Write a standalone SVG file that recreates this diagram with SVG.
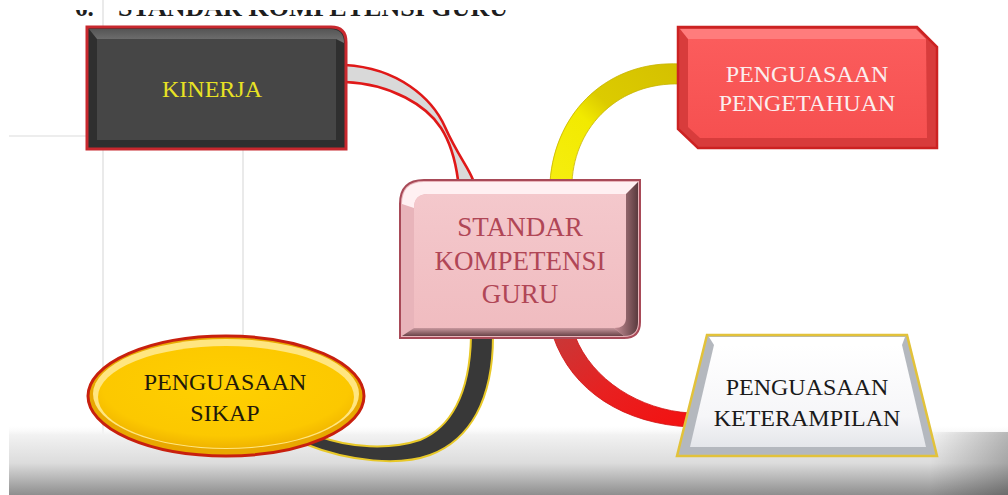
<svg xmlns="http://www.w3.org/2000/svg" width="1008" height="495" viewBox="0 0 1008 495">
  <defs>
    <style>
      .t { font-family: "Liberation Serif", "Times New Roman", serif; text-anchor: middle; }
      .grid { stroke: #dcdcdc; stroke-width: 1.2; fill: none; }
      .top { font-family: "Liberation Serif", "Times New Roman", serif; font-weight: bold; font-size: 25px; fill: #1e1e1e; }
    </style>
    <linearGradient id="bottomShade" x1="0" y1="0" x2="0" y2="1">
      <stop offset="0" stop-color="#ffffff" stop-opacity="0"/>
      <stop offset="0.15" stop-color="#f2f2f2" stop-opacity="1"/>
      <stop offset="0.55" stop-color="#dcdcdc"/>
      <stop offset="1" stop-color="#8e8e8e"/>
    </linearGradient>
    <linearGradient id="rightShade" x1="0" y1="0" x2="1" y2="0">
      <stop offset="0" stop-color="#000" stop-opacity="0"/>
      <stop offset="1" stop-color="#000" stop-opacity="0.25"/>
    </linearGradient>
    <linearGradient id="yellowRib" x1="1" y1="0" x2="0" y2="1">
      <stop offset="0" stop-color="#d4c000"/>
      <stop offset="0.45" stop-color="#dccb00"/>
      <stop offset="0.6" stop-color="#f2ea00"/>
      <stop offset="1" stop-color="#f6ee10"/>
    </linearGradient>
    <linearGradient id="redRib" x1="0" y1="0" x2="1" y2="1">
      <stop offset="0" stop-color="#c83838"/>
      <stop offset="0.5" stop-color="#e82020"/>
      <stop offset="1" stop-color="#f41010"/>
    </linearGradient>
    <linearGradient id="darkTop" x1="0" y1="0" x2="0" y2="1">
      <stop offset="0" stop-color="#555"/>
      <stop offset="1" stop-color="#757575"/>
    </linearGradient>
    <linearGradient id="pinkFace" x1="0" y1="0" x2="0" y2="1">
      <stop offset="0" stop-color="#f4c8cc"/>
      <stop offset="1" stop-color="#f0bcc0"/>
    </linearGradient>
    <linearGradient id="pinkRight" x1="0" y1="0" x2="1" y2="0">
      <stop offset="0" stop-color="#c89098"/>
      <stop offset="1" stop-color="#5a3a3e"/>
    </linearGradient>
    <linearGradient id="pinkBottom" x1="0" y1="0" x2="0" y2="1">
      <stop offset="0" stop-color="#c8989e"/>
      <stop offset="1" stop-color="#6a4448"/>
    </linearGradient>
    <radialGradient id="yellowFace" cx="0.5" cy="0.4" r="0.6">
      <stop offset="0" stop-color="#ffd000"/>
      <stop offset="0.8" stop-color="#fcc800"/>
      <stop offset="1" stop-color="#f0b400"/>
    </radialGradient>
    <linearGradient id="whiteFace" x1="0" y1="0" x2="0" y2="1">
      <stop offset="0" stop-color="#ffffff"/>
      <stop offset="0.7" stop-color="#f6f6f8"/>
      <stop offset="1" stop-color="#e4e6ea"/>
    </linearGradient>
    <linearGradient id="redFace" x1="0" y1="0" x2="0" y2="1">
      <stop offset="0" stop-color="#fb5c5c"/>
      <stop offset="1" stop-color="#f65050"/>
    </linearGradient>
    <clipPath id="topClip">
      <rect x="0" y="10" width="1008" height="7"/>
    </clipPath>
  </defs>

  <!-- background -->
  <rect x="0" y="0" width="1008" height="495" fill="#ffffff"/>
  <g id="background">
    <line class="grid" x1="9" y1="136" x2="88" y2="136"/>
    <line class="grid" x1="103" y1="0" x2="103" y2="495"/>
    <line class="grid" x1="243" y1="150" x2="243" y2="495"/>
    <rect x="9" y="424" width="999" height="71" fill="url(#bottomShade)"/>
    <rect x="930" y="432" width="78" height="63" fill="url(#rightShade)"/>
    <g clip-path="url(#topClip)">
      <text class="top" x="75" y="16">6.</text>
      <text class="top" x="118" y="16" textLength="390" lengthAdjust="spacingAndGlyphs">STANDAR KOMPETENSI GURU</text>
    </g>
  </g>

  <!-- connectors -->
  <g id="connectors">
    <!-- KINERJA ribbon -->
    <path d="M345,65 C398,68 432,98 445,127 C458,156 469,168 473,180 L458,180 C456,165 452,145 441,128 C427,106 392,84 345,82 Z" fill="#d9d9d9"/>
    <path d="M345,65 C398,68 432,98 445,127 C458,156 469,168 473,180" fill="none" stroke="#e01818" stroke-width="2.6"/>
    <path d="M345,82 C392,84 427,106 441,128 C452,145 456,165 458,180" fill="none" stroke="#e01818" stroke-width="2.6"/>
    <!-- PENGETAHUAN ribbon -->
    <path d="M680,64 C610,60 555,110 550,182 L572,182 C575,125 620,82 680,84 Z" fill="url(#yellowRib)" stroke="#c8b400" stroke-width="0.8"/>
    <!-- SIKAP ribbon -->
    <path d="M493,336 C493,400 470,440 430,455 C400,466 350,462 305,444 L318,436 C350,448 390,450 420,440 C450,428 470,395 471,336 Z" fill="#383838" stroke="#e8c828" stroke-width="2"/>
    <!-- KETERAMPILAN ribbon -->
    <path d="M553,336 C572,392 625,424 690,427 L690,413 C640,410 592,380 575,336 Z" fill="url(#redRib)" stroke="#d01010" stroke-width="0.8"/>
  </g>

  <!-- KINERJA -->
  <g id="node-kinerja">
    <path d="M87,27 L331,27 Q346,27 346,42 L346,149 L87,149 Z" fill="#2f2f2f" stroke="#c8282e" stroke-width="3"/>
    <path d="M89,29 L330,29 Q344,29 344,43 L336,39 L97,39 Z" fill="url(#darkTop)"/>
    <rect x="97" y="39" width="239" height="101" fill="#464646"/>
    <text class="t" x="212" y="97" font-size="24" fill="#e8e224">KINERJA</text>
  </g>

  <!-- PENGETAHUAN -->
  <g id="node-pengetahuan">
    <path d="M678,27 L917,27 L937,47 L937,148 L698,148 L678,129 Z" fill="#d83c3c" stroke="#cc2222" stroke-width="2.5"/>
    <path d="M680,29 L916,29 L926,39 L688,39 Z" fill="#ff7c7c"/>
    <path d="M688,39 L926,39 L927,138 L700,138 L688,127 Z" fill="url(#redFace)"/>
    <text class="t" x="807" y="82" font-size="24" fill="#fbeeee">PENGUASAAN</text>
    <text class="t" x="807" y="111" font-size="24" fill="#fbeeee">PENGETAHUAN</text>
  </g>

  <!-- STANDAR KOMPETENSI GURU -->
  <g id="node-center">
    <path d="M400,204 Q400,180 424,180 L640,180 L640,322 Q640,338 624,338 L400,338 Z" fill="#e8b4ba" stroke="#a84a58" stroke-width="2"/>
    <path d="M402,204 Q402,182 424,182 L638,182 L626,194 L428,194 Q414,194 414,208 Z" fill="#fff0f2"/>
    <path d="M638,182 L638,322 Q638,336 624,336 L614,328 L626,318 L626,194 Z" fill="url(#pinkRight)"/>
    <path d="M402,336 L624,336 L614,328 L414,328 Z" fill="url(#pinkBottom)"/>
    <path d="M414,208 Q414,194 428,194 L626,194 L626,318 Q626,328 614,328 L414,328 Z" fill="url(#pinkFace)"/>
    <text class="t" x="520" y="236" font-size="27" fill="#b04656">STANDAR</text>
    <text class="t" x="520" y="270" font-size="27" fill="#b04656">KOMPETENSI</text>
    <text class="t" x="520" y="303" font-size="27" fill="#b04656">GURU</text>
  </g>

  <!-- PENGUASAAN SIKAP -->
  <g id="node-sikap">
    <ellipse cx="226" cy="396" rx="138" ry="60" fill="#e8a800" stroke="#c8200e" stroke-width="3"/>
    <ellipse cx="226" cy="394" rx="133" ry="55" fill="#ffe680"/>
    <ellipse cx="226" cy="397" rx="128" ry="51" fill="url(#yellowFace)"/>
    <text class="t" x="225" y="390" font-size="24" fill="#22190a">PENGUASAAN</text>
    <text class="t" x="225" y="421" font-size="24" fill="#22190a">SIKAP</text>
  </g>

  <!-- PENGUASAAN KETERAMPILAN -->
  <g id="node-keterampilan">
    <path d="M707,335 L907,335 L937,456 L677,456 Z" fill="#b4b8be" stroke="#e2c23a" stroke-width="2.5"/>
    <path d="M709,337 L905,337 L902,345 L714,345 Z" fill="#ffffff"/>
    <path d="M714,345 L902,345 L926,447 L690,447 Z" fill="url(#whiteFace)"/>
    <text class="t" x="807" y="395" font-size="24" fill="#1a1a1a">PENGUASAAN</text>
    <text class="t" x="807" y="426" font-size="24" fill="#1a1a1a">KETERAMPILAN</text>
  </g>
</svg>
